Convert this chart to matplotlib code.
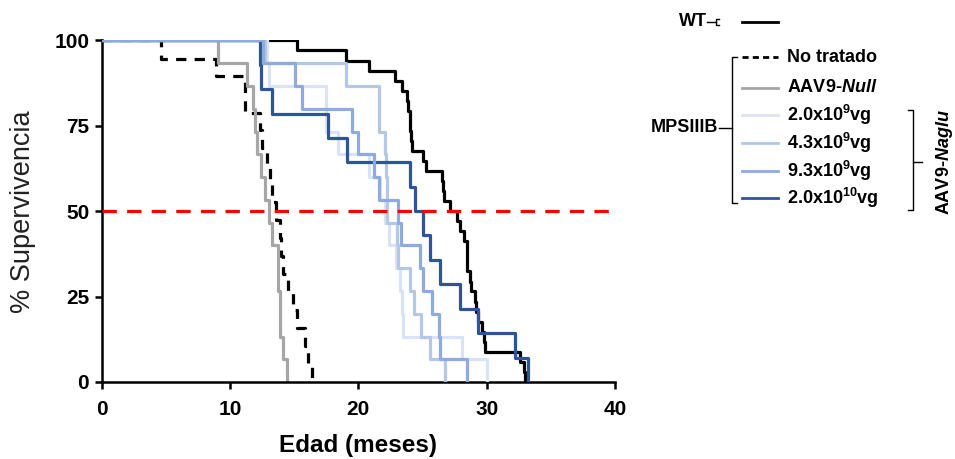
import matplotlib
matplotlib.use("Agg")
import matplotlib.pyplot as plt

plt.rcParams.update({
    "font.family": ["Liberation Sans", "DejaVu Sans"],
    "mathtext.fontset": "custom",
    "mathtext.rm": "Liberation Sans:bold",
    "mathtext.it": "Liberation Sans:bold:italic",
    "mathtext.bf": "Liberation Sans:bold",
    "mathtext.default": "rm",
})

# Kaplan-Meier curves: event times (meses) and % survival after each step
wt_t = [0, 15.2, 19.0, 20.8, 22.85, 23.4, 23.8, 23.9, 24.0, 24.05, 24.1, 24.16,
        25.07, 25.3, 26.5, 26.6, 26.7, 27.15, 27.67, 27.9, 28.2, 28.45, 28.5,
        28.7, 28.75, 29.1, 29.15, 29.35, 29.6, 29.8, 29.85, 32.6, 32.9, 33.0]
wt_s = [100, 97.1, 94.1, 91.2, 88.2, 85.3, 82.4, 79.4, 76.5, 73.5, 70.6, 67.6,
        64.7, 61.8, 58.8, 55.9, 52.9, 50.0, 47.1, 44.1, 41.2, 35.3, 32.4,
        29.4, 26.5, 23.5, 20.6, 17.6, 14.7, 11.8, 8.8, 5.9, 2.9, 0]

nt_t = [0, 4.6, 8.9, 11.2, 12.35, 12.5, 12.85, 13.1, 13.3, 13.6, 13.9, 14.0,
        14.1, 14.55, 14.9, 15.2, 15.85, 16.1, 16.4]
nt_s = [100, 94.7, 89.5, 78.9, 73.7, 68.4, 63.2, 57.9, 52.6, 47.4, 42.1, 36.8,
        31.6, 26.3, 21.1, 15.8, 10.5, 5.3, 0]

null_t = [0, 9.1, 11.3, 11.8, 11.95, 12.1, 12.45, 12.7, 13.0, 13.25, 13.75,
          13.9, 14.15, 14.4]
null_s = [100, 93.3, 86.7, 80.0, 73.3, 66.7, 60.0, 53.3, 46.7, 40.0, 26.7,
          13.3, 6.7, 0]

d1_t = [0, 12.9, 13.0, 17.5, 18.45, 20.8, 21.7, 22.1, 22.4, 22.9, 23.25,
        23.4, 23.45, 28.1, 30.0]
d1_s = [100, 93.3, 86.7, 73.3, 66.7, 60.0, 53.3, 46.7, 40.0, 33.3, 26.7,
        20.0, 13.3, 6.7, 0]

d2_t = [0, 12.7, 19.0, 21.6, 22.1, 22.15, 22.2, 22.25, 23.0, 23.05, 24.0,
        24.3, 24.9, 25.6, 26.75]
d2_s = [100, 93.3, 86.7, 73.3, 66.7, 60.0, 53.3, 46.7, 40.0, 33.3, 26.7,
        20.0, 13.3, 6.7, 0]

d3_t = [0, 12.6, 15.07, 15.6, 19.5, 20.0, 21.2, 21.6, 23.1, 23.3, 24.8, 25.0,
        25.7, 26.3, 26.4, 28.5]
d3_s = [100, 93.3, 86.7, 80.0, 73.3, 66.7, 60.0, 53.3, 46.7, 40.0, 33.3, 26.7,
        20.0, 13.3, 6.7, 0]

d4_t = [0, 12.3, 12.45, 13.25, 17.66, 19.1, 24.0, 24.4, 25.07, 25.6, 26.4,
        27.9, 29.35, 32.2, 33.25]
d4_s = [100, 92.9, 85.7, 78.6, 71.4, 64.3, 57.1, 50.0, 42.9, 35.7, 28.6,
        21.4, 14.3, 7.1, 0]

dose_labels = [r"2.0x10$^{9}$vg", r"4.3x10$^{9}$vg", r"9.3x10$^{9}$vg",
               r"2.0x10$^{10}$vg"]

BLACK = "#000000"
GREY = "#a6a6a6"
BLUES = ["#dae3f3", "#b4c7e7", "#8faadc", "#2f5597"]
RED = "#ff0000"
LW = 2.3

fig = plt.figure(figsize=(9.55, 4.59), dpi=100)
ax = fig.add_axes([0.1065, 0.1678, 0.5375, 0.744])

ax.step(wt_t, wt_s, where="post", color=BLACK, lw=LW, zorder=2)
ax.step(nt_t, nt_s, where="post", color=BLACK, lw=LW, ls=(0, (3.2, 2.6)), zorder=2)
ax.step(null_t, null_s, where="post", color=GREY, lw=LW, zorder=2)
for t, s, c, z in [(d1_t, d1_s, BLUES[0], 3), (d2_t, d2_s, BLUES[1], 3),
                   (d4_t, d4_s, BLUES[3], 3), (d3_t, d3_s, BLUES[2], 4)]:
    ax.step(t, s, where="post", color=c, lw=LW, zorder=z)
ax.axhline(50, color=RED, lw=2.3, ls=(0, (4.5, 3.2)), zorder=6)

ax.set_xlim(0, 40)
ax.set_ylim(0, 100)
ax.set_xticks([0, 10, 20, 30, 40])
ax.set_yticks([0, 25, 50, 75, 100])
for side in ["top", "right"]:
    ax.spines[side].set_visible(False)
for side in ["left", "bottom"]:
    ax.spines[side].set_linewidth(1.8)
ax.tick_params(width=1.8, length=5, labelsize=15)
ax.tick_params(axis="x", pad=8)
ax.tick_params(axis="y", pad=4)
for lab in ax.get_xticklabels() + ax.get_yticklabels():
    lab.set_fontweight("bold")
ax.set_xlabel("Edad (meses)", fontsize=17.5, fontweight="bold", labelpad=11)
ax.set_ylabel("% Supervivencia", fontsize=19.5, labelpad=13, color="#222222")

# legend drawn in pixel coordinates on an overlay
lg = fig.add_axes([0, 0, 1, 1], facecolor="none")
lg.set_xlim(0, 955)
lg.set_ylim(459, 0)
lg.axis("off")
tkw = dict(fontsize=13, fontweight="bold", va="center")

lg.text(707, 22, "WT", ha="right", **tkw)
lg.plot([707, 716], [22, 22], color=BLACK, lw=1)
lg.plot([719, 716, 716, 719], [19, 19, 25, 25], color=BLACK, lw=1)
lg.plot([742, 778], [22, 22], color=BLACK, lw=2)

rows_y = [57, 88, 115, 143, 171, 198]
lg.plot([742, 778], [rows_y[0]] * 2, color=BLACK, lw=2, ls=(0, (2.2, 1.5)))
lg.plot([742, 778], [rows_y[1]] * 2, color=GREY, lw=2)
for y, c in zip(rows_y[2:], BLUES):
    lg.plot([742, 778], [y, y], color=c, lw=2)
lg.text(787, rows_y[0], "No tratado", **tkw)
lg.text(787, rows_y[1], r"AAV9-$\mathit{Null}$", **tkw)
for y, lab in zip(rows_y[2:], dose_labels):
    lg.text(787, y, lab, **tkw)

# MPSIIIB bracket
lg.plot([737, 732, 732, 737], [57, 57, 203, 203], color=BLACK, lw=1)
lg.plot([719, 732], [128, 128], color=BLACK, lw=1)
lg.text(718, 128, "MPSIIIB", ha="right", **tkw)

# AAV9-Naglu bracket
lg.plot([908, 913, 913, 908], [110, 110, 210, 210], color=BLACK, lw=1)
lg.plot([913, 922], [162, 162], color=BLACK, lw=1)
lg.text(944, 162, r"AAV9-$\mathit{Naglu}$", rotation=90, ha="center",
        va="center", fontsize=13, fontweight="bold")

fig.savefig("out.png", dpi=100)
